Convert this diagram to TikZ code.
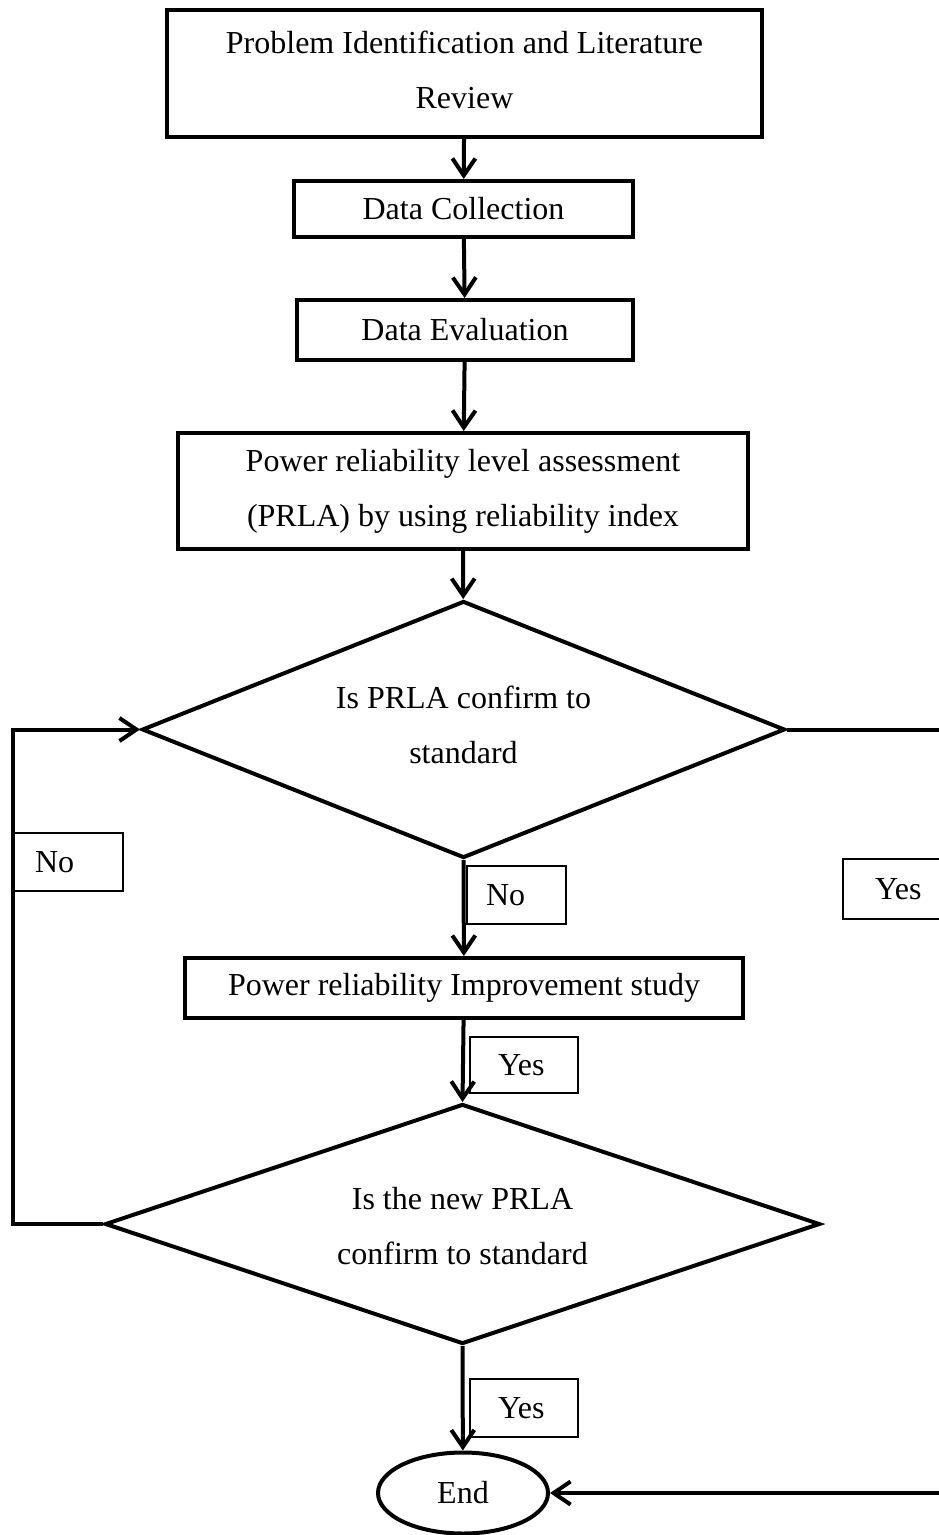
\documentclass[tikz,border=0pt]{standalone}
\usepackage{fontspec}
\setmainfont{Liberation Serif}
\usetikzlibrary{shapes.geometric,arrows.meta}
\begin{document}
\begin{tikzpicture}[x=1pt,y=-1pt,
  txt/.style={font=\fontsize{32}{55}\selectfont, align=center},
  stepbox/.style={draw, line width=4pt, inner sep=0pt, txt},
  decision/.style={draw, diamond, line width=4pt, inner sep=0pt},
  terminal/.style={draw, ellipse, line width=4pt, inner sep=0pt, txt},
  tag/.style={draw, line width=2pt, inner ysep=0pt, txt, align=left},
  flow/.style={line width=4pt, -{Straight Barb[length=17pt,width=23pt]}},
]
\useasboundingbox (0,0) rectangle (939,1535);

% process steps
\node[stepbox, minimum width=595pt, minimum height=127pt] (b1) at (464.5,73.5) {};
\node[txt] (b1t) at (464.5,70) {Problem Identification and Literature\\Review};
\node[stepbox, minimum width=339pt, minimum height=56pt] (b2) at (463.5,209)
  {Data Collection};
\node[stepbox, minimum width=336pt, minimum height=60pt] (b3) at (465,330)
  {Data Evaluation};
\node[stepbox, minimum width=570pt, minimum height=116pt] (b4) at (463,491)
  {Power reliability level assessment\\(PRLA) by using reliability index};

% first decision
\node[decision, minimum width=643pt, minimum height=257pt] (d1) at (463.5,729.5) {};
\node[txt] (d1t) at (463.5,725) {Is PRLA confirm to\\standard};

\node[stepbox, minimum width=558pt, minimum height=60pt] (b5) at (464,988)
  {Power reliability Improvement study};

% second decision
\node[decision, minimum width=715pt, minimum height=240pt] (d2) at (462.5,1224) {};
\node[txt] (d2t) at (462.5,1226) {Is the new PRLA\\confirm to standard};

% terminal
\node[terminal, minimum width=170pt, minimum height=81pt] (end) at (463,1493) {End};

% turning points of the loop-back and bypass lines
\coordinate (lft) at (13,729.5);
\coordinate (rgt) at (945,1493);

% connectors
\draw[flow] (b1) -- (b2);
\draw[flow] (b2) -- (b3);
\draw[flow] (b3) -- (b4);
\draw[flow] (b4) -- (d1);
\draw[flow] (d1.south) -- (b5);
\draw[flow] (b5) -- (d2.north);
\draw[flow] (d2.south) -- (end);
\draw[flow] (d2.west) -| (lft) |- (d1.west);
\draw[flow] (d1.east) -| (rgt) -- (end.east);

% branch labels
\node[tag, anchor=north west, inner xsep=21pt, text width=67pt, minimum height=58pt] (no1) at (13,832) {No};
\node[tag, anchor=north west, inner xsep=19pt, text width=61pt, minimum height=58pt] (no2) at (466,865) {No};
\node[tag, anchor=north west, inner xsep=32pt, text width=50pt, minimum height=60pt] (yes1) at (842,858) {Yes};
\node[tag, anchor=north west, inner xsep=28pt, text width=52pt, minimum height=56pt] (yes2) at (469,1036) {Yes};
\node[tag, anchor=north west, inner xsep=28pt, text width=52pt, minimum height=58pt] (yes3) at (469,1378) {Yes};
\end{tikzpicture}
\end{document}
